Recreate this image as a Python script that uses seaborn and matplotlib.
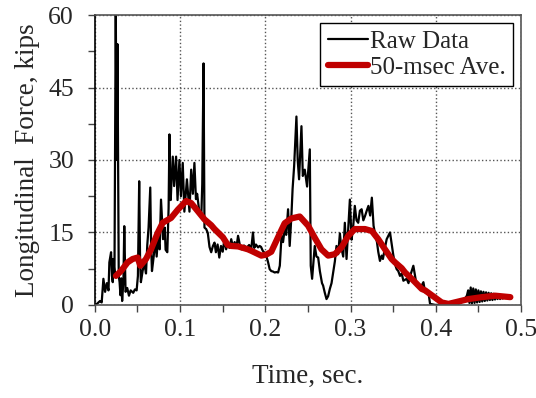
import matplotlib
matplotlib.use("Agg")
import matplotlib.pyplot as plt
from matplotlib.ticker import MultipleLocator
import pandas as pd
import seaborn as sns

# ham veri (zaman, kuvvet)
raw_time = [
    0.000, 0.003, 0.006, 0.008, 0.010, 0.012, 0.014, 0.016, 0.017, 0.019,
    0.020, 0.021, 0.0215, 0.023, 0.0245, 0.0255, 0.0265, 0.028, 0.029, 0.030,
    0.031, 0.032, 0.0335, 0.0345, 0.036, 0.038, 0.040, 0.042, 0.045, 0.047,
    0.049, 0.0505, 0.052, 0.053, 0.054, 0.056, 0.058, 0.060, 0.0615, 0.063,
    0.065, 0.066, 0.067, 0.069, 0.071, 0.0725, 0.074, 0.076, 0.0776, 0.079,
    0.080, 0.082, 0.083, 0.085, 0.0865, 0.0875, 0.088, 0.089, 0.090, 0.0914,
    0.093, 0.0953, 0.097, 0.0992, 0.101, 0.1031, 0.105, 0.108, 0.111, 0.113,
    0.115, 0.1168, 0.1186, 0.120, 0.1225, 0.125, 0.126, 0.1275, 0.1286, 0.1306,
    0.1325, 0.1345, 0.1365, 0.1385, 0.1404, 0.142, 0.144, 0.146, 0.148, 0.150,
    0.152, 0.154, 0.156, 0.158, 0.160, 0.162, 0.164, 0.166, 0.168, 0.170,
    0.172, 0.175, 0.178, 0.181, 0.1835, 0.1855, 0.187, 0.189, 0.1915, 0.1933,
    0.195, 0.197, 0.199, 0.201, 0.203, 0.2051, 0.207, 0.209, 0.211, 0.213,
    0.215, 0.217, 0.219, 0.2208, 0.2227, 0.2245, 0.2267, 0.2286, 0.2306, 0.232,
    0.2338, 0.2365, 0.238, 0.2396, 0.2424, 0.244, 0.2463, 0.249, 0.2522, 0.2533,
    0.2549, 0.2565, 0.258, 0.260, 0.262, 0.264, 0.2665, 0.2678, 0.2698, 0.2718,
    0.2737, 0.2757, 0.2777, 0.2796, 0.2816, 0.2835, 0.2855, 0.2875, 0.289, 0.2914,
    0.2933, 0.2953, 0.297, 0.2992, 0.3012, 0.303, 0.305, 0.307, 0.309, 0.311,
    0.313, 0.315, 0.317, 0.319, 0.321, 0.323, 0.325, 0.327, 0.329, 0.331,
    0.3325, 0.3345, 0.3365, 0.338, 0.340, 0.3424, 0.3463, 0.348, 0.350, 0.352,
    0.3541, 0.356, 0.358, 0.360, 0.362, 0.3659, 0.368, 0.370, 0.3737, 0.3757,
    0.3776, 0.3796, 0.382, 0.3855, 0.3875, 0.3914, 0.3933, 0.3992, 0.405, 0.410,
    0.4149, 0.420, 0.4267, 0.430, 0.433, 0.4365, 0.438, 0.4395, 0.441, 0.4424,
    0.444, 0.4455, 0.447, 0.4485, 0.450, 0.4515, 0.453, 0.4545, 0.456, 0.4575,
    0.459, 0.4605, 0.462, 0.4635, 0.465, 0.4665, 0.468, 0.4695, 0.471, 0.4725,
    0.474, 0.4755, 0.477, 0.4785, 0.480, 0.4815, 0.483, 0.4845, 0.486,
]
raw_force = [
    0.0, 0.3, 0.8, 0.5, 5.4, 2.7, 4.5, 3.0, 8.8, 10.9,
    6.0, 4.7, 9.5, 6.5, 62.0, 30.0, 54.0, 6.0, 4.7, 2.0,
    5.5, 0.8, 5.0, 16.3, 2.7, 3.5, 1.9, 3.0, 2.5, 3.2,
    3.0, 6.0, 25.6, 10.0, 4.7, 7.0, 8.6, 6.5, 12.4, 16.0,
    24.3, 12.0, 7.0, 10.0, 13.6, 10.0, 14.0, 11.5, 21.8, 17.0,
    13.6, 16.0, 11.4, 10.9, 20.0, 35.3, 26.0, 21.7, 26.0, 30.7,
    24.6, 30.7, 21.7, 30.0, 22.5, 29.4, 19.3, 26.0, 19.3, 28.0,
    23.0, 29.4, 21.9, 23.0, 19.3, 19.0, 25.0, 50.0, 16.0, 15.7,
    14.9, 12.0, 10.9, 12.2, 12.9, 10.9, 12.5, 9.8, 12.2, 11.0,
    13.6, 11.5, 12.8, 11.8, 13.6, 12.0, 13.0, 11.8, 14.3, 12.5,
    11.5, 12.3, 11.8, 12.4, 11.6, 15.0, 11.8, 12.5, 11.9, 12.2,
    12.0, 11.2, 10.8, 10.2, 9.0, 7.4, 7.0, 6.9, 6.7, 6.8,
    6.7, 8.1, 14.3, 13.0, 15.7, 14.5, 19.8, 12.2, 18.4, 24.0,
    28.7, 39.0, 30.0, 26.0, 37.0, 26.7, 28.0, 24.5, 32.2, 8.1,
    5.4, 9.0, 12.2, 10.0, 9.8, 7.0, 4.5, 4.0, 2.5, 1.2,
    1.8, 3.3, 4.5, 6.7, 9.0, 12.2, 10.5, 14.8, 12.0, 10.0,
    17.0, 9.5, 15.0, 21.8, 13.5, 16.0, 20.5, 17.5, 17.0, 19.5,
    19.8, 17.5, 18.4, 19.5, 20.5, 18.5, 22.2, 16.4, 14.5, 13.0,
    11.0, 9.1, 10.2, 9.5, 11.5, 13.6, 15.0, 13.0, 10.5, 8.5,
    7.4, 7.0, 6.0, 6.5, 5.0, 5.4, 4.5, 6.0, 8.1, 6.0,
    4.0, 4.0, 3.5, 4.7, 2.6, 2.6, 0.2, 0.0, 0.0, 0.0,
    0.0, 0.0, 0.2, 0.5, 1.0, 1.9, 3.0, 0.4, 3.6, 0.3,
    3.4, 0.4, 3.2, 0.5, 3.0, 0.6, 2.8, 0.7, 2.7, 0.8,
    2.6, 0.9, 2.5, 1.0, 2.4, 1.0, 2.3, 1.1, 2.2, 1.2,
    2.1, 1.2, 2.0, 1.3, 1.9, 1.4, 1.8, 1.5, 1.6,
]

# 50 ms hareketli ortalama
avg_time = [
    0.0247, 0.0306, 0.0384, 0.0443, 0.0502, 0.0533, 0.060, 0.0659, 0.0737, 0.0796,
    0.0894, 0.0973, 0.107, 0.1129, 0.1208, 0.1286, 0.1365, 0.1404, 0.1502, 0.156,
    0.160, 0.168, 0.172, 0.1796, 0.1835, 0.1953, 0.201, 0.207, 0.2149, 0.2227,
    0.2306, 0.2404, 0.2502, 0.258, 0.2659, 0.2737, 0.2816, 0.2894, 0.2973, 0.305,
    0.317, 0.325, 0.3325, 0.3404, 0.3482, 0.3522, 0.360, 0.364, 0.3718, 0.3757,
    0.3835, 0.3875, 0.3953, 0.407, 0.4149, 0.4267, 0.4384, 0.4541, 0.4698, 0.4875,
]
avg_force = [
    6.0, 7.0, 8.8, 9.5, 9.8, 8.1, 9.5, 11.5, 14.9, 17.0,
    18.0, 19.7, 21.5, 21.1, 19.4, 17.7, 16.5, 15.7, 14.0, 12.4,
    12.2, 12.1, 11.9, 11.5, 11.2, 10.2, 10.4, 11.0, 14.0, 16.9,
    17.9, 18.3, 16.4, 13.9, 11.5, 10.2, 10.5, 11.9, 14.3, 15.7,
    15.7, 15.3, 13.6, 11.5, 9.5, 8.8, 7.6, 6.7, 5.4, 4.7,
    3.3, 3.0, 2.0, 0.5, 0.2, 0.7, 1.2, 1.6, 1.9, 1.6,
]

raw_df = pd.DataFrame({"zaman": raw_time, "kuvvet": raw_force})
avg_df = pd.DataFrame({"zaman": avg_time, "kuvvet": avg_force})

sns.set_theme(style="white")
plt.rcParams["font.family"] = ["Liberation Serif", "DejaVu Serif"]

fig, ax = plt.subplots(figsize=(5.36, 3.98), dpi=100)
fig.subplots_adjust(left=0.177, right=0.972, bottom=0.234, top=0.962)

sns.lineplot(x="zaman", y="kuvvet", data=raw_df, ax=ax, color="black",
             linewidth=1.6, estimator=None, sort=False, label="Raw Data")
sns.lineplot(x="zaman", y="kuvvet", data=avg_df, ax=ax, color="#c00000",
             linewidth=4.5, estimator=None, sort=False, label="50-msec Ave.")

ax.set_xlim(0, 0.5)
ax.set_ylim(0, 60)
ax.xaxis.set_major_locator(MultipleLocator(0.1))
ax.xaxis.set_minor_locator(MultipleLocator(0.05))
ax.yaxis.set_major_locator(MultipleLocator(15))
ax.yaxis.set_minor_locator(MultipleLocator(7.5))
ax.xaxis.set_major_formatter(lambda v, p: f"{v:.1f}")

ax.grid(True, which="major", linestyle=":", color="#555555", linewidth=1.0)
ax.tick_params(which="both", direction="out", length=5, width=1,
               color="#444444", labelsize=18.5, bottom=True, left=True)
ax.tick_params(axis="x", pad=5)
ax.tick_params(axis="y", pad=10)

for side in ["left", "bottom", "top", "right"]:
    ax.spines[side].set_color("#555555")
    ax.spines[side].set_linewidth(1.2)
ax.spines["left"].set_color("black")

ax.set_xlabel("Time, sec.", fontsize=19.5, labelpad=17)
ax.set_ylabel("Longitudinal  Force, kips", fontsize=19.5, labelpad=6)

leg = ax.legend(loc="upper right", fontsize=18, frameon=True, fancybox=False,
                edgecolor="black", framealpha=1, borderaxespad=0.3,
                handlelength=1.6, handletextpad=0.1, borderpad=0.3,
                labelspacing=0.15)
leg.get_frame().set_linewidth(1.0)

fig.savefig("out.png", dpi=100)
